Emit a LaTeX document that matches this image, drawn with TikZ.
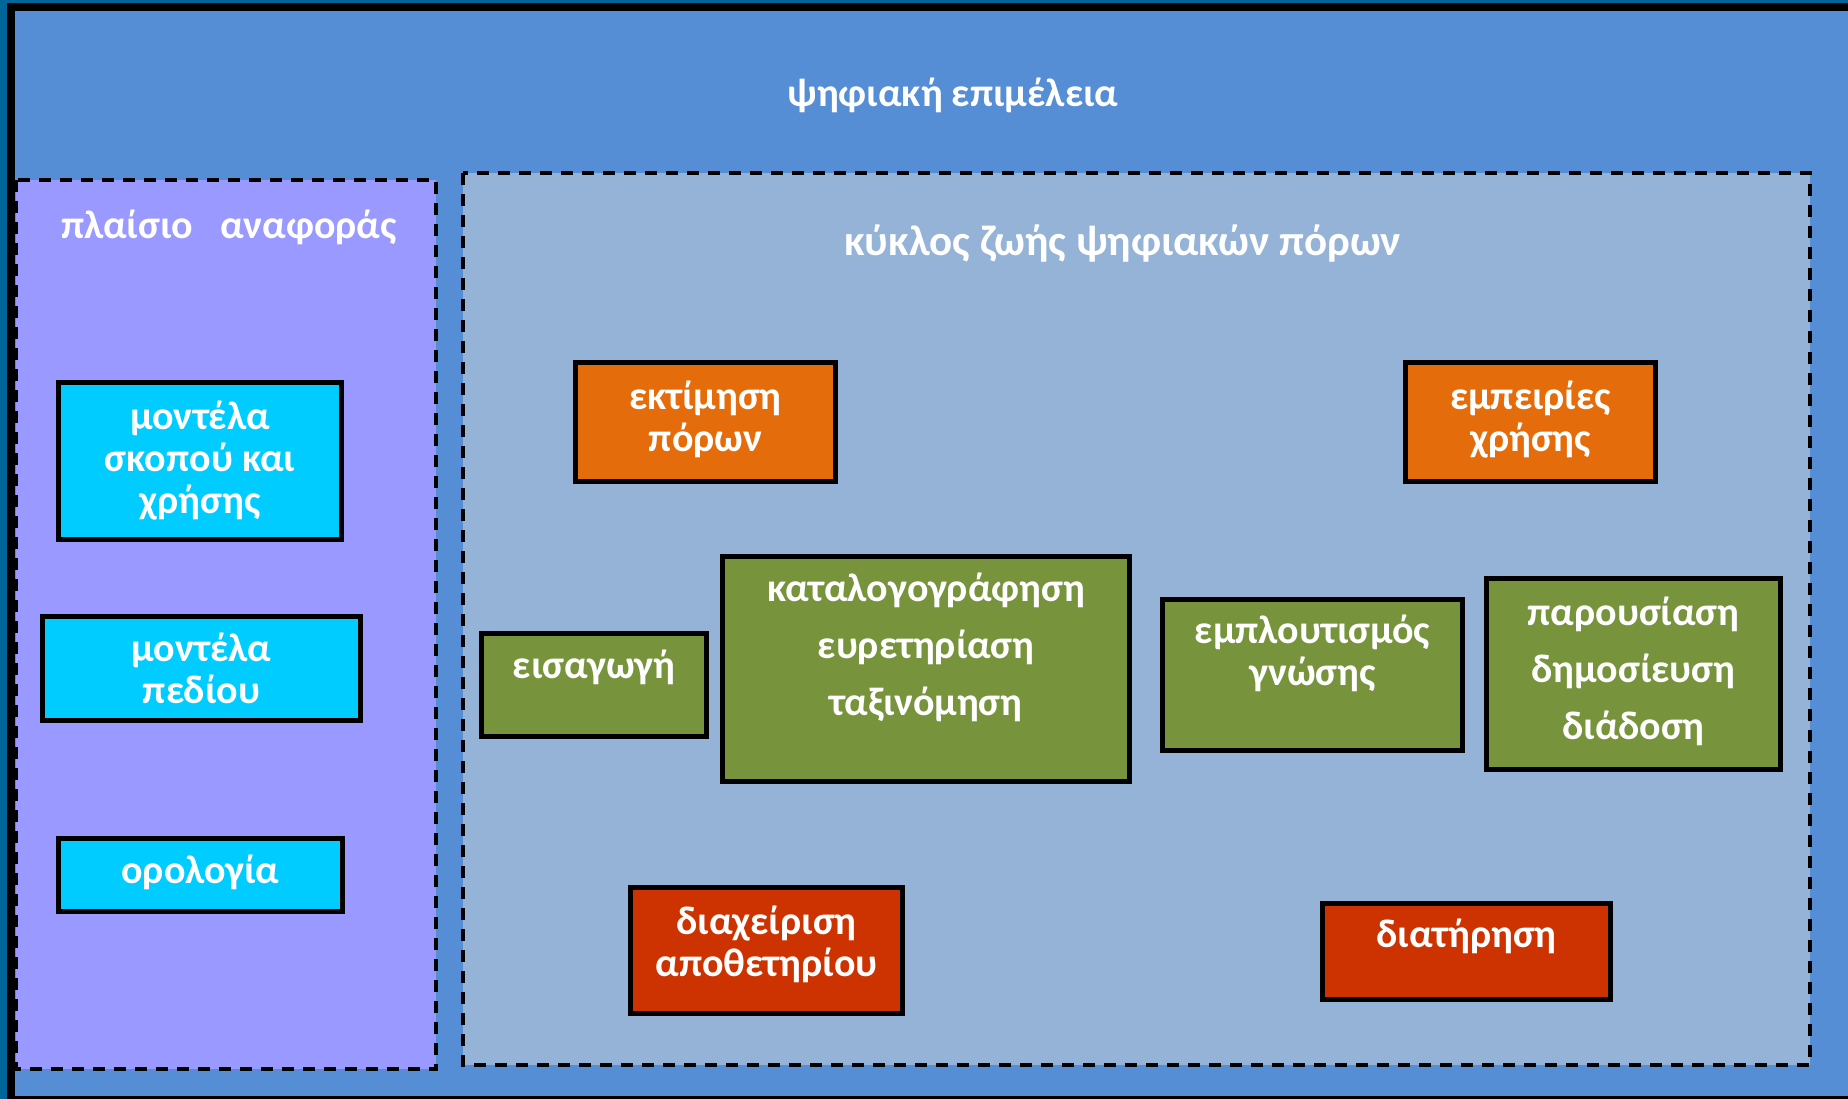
\documentclass[tikz,border=0pt]{standalone}
\usepackage{fontspec}
\setmainfont{Carlito}
\usetikzlibrary{positioning}

\definecolor{frameteal}{HTML}{006699}
\definecolor{curblue}{HTML}{558ED5}
\definecolor{reflilac}{HTML}{9999FF}
\definecolor{cyclegrey}{HTML}{95B3D7}
\definecolor{modcyan}{HTML}{00CCFF}
\definecolor{evalorange}{HTML}{E46C0A}
\definecolor{stepgreen}{HTML}{77933C}
\definecolor{keepred}{HTML}{CC3300}

\tikzset{
  box/.style={draw=black, line width=5.5pt, text=white, align=center,
    inner sep=0pt, font=\bfseries\fontsize{40}{42}\selectfont},
  modbox/.style={box, fill=modcyan},
  evalbox/.style={box, fill=evalorange},
  stepbox/.style={box, fill=stepgreen},
  keepbox/.style={box, fill=keepred},
  area/.style={draw=black, line width=3.5pt, dash pattern=on 12pt off 9pt},
  heading/.style={text=white, font=\bfseries\fontsize{40}{42}\selectfont}
}

\begin{document}
\begin{tikzpicture}[x=1pt,y=-1pt]
\useasboundingbox (0,0) rectangle (1848,1099);
% frame
\fill[frameteal] (0,0) rectangle (1848,1099);
\fill[black] (7,3) rectangle (1848,1099);
\fill[curblue] (15,11) rectangle (1848,1096);
% the two areas
\draw[area, fill=reflilac] (16,180) rectangle (436,1069);
\draw[area, fill=cyclegrey] (463,173) rectangle (1810,1065);
\node[heading] (curation) at (953,95) {ψηφιακή επιμέλεια};
\node[heading] (reference) at (229,227) {πλαίσιο~~~αναφοράς};
\node[heading, font=\bfseries\fontsize{43}{45}\selectfont] (lifecycle) at (1123,244)
  {κύκλος ζωής ψηφιακών πόρων};

% reference frame
\node[modbox, minimum width=283, minimum height=157] (purpose) at (200,461)
  {μοντέλα\\σκοπού και\\χρήσης};
\node[modbox, minimum width=318, minimum height=104] (domain) at (201.5,668.5)
  {μοντέλα\\πεδίου};
\node[modbox, minimum width=284, minimum height=73, text depth=12] (terms) at (200.5,875)
  {ορολογία};

% life cycle
\node[evalbox, minimum width=260, minimum height=119, text depth=12] (assess) at (705.5,422)
  {εκτίμηση\\πόρων};
\node[evalbox, minimum width=250, minimum height=119, text depth=12] (usage) at (1530.5,422)
  {εμπειρίες\\χρήσης};
\node[stepbox, minimum width=225, minimum height=103, text depth=42] (ingest) at (594,685)
  {εισαγωγή};
\node[stepbox, minimum width=407, minimum height=225, text depth=50,
  font=\bfseries\fontsize{40}{57}\selectfont] (catalog) at (926,669)
  {καταλογογράφηση\\ευρετηρίαση\\ταξινόμηση};
\node[stepbox, minimum width=300, minimum height=151, text depth=50] (enrich) at (1312.5,675)
  {εμπλουτισμός\\γνώσης};
\node[stepbox, minimum width=294, minimum height=191, text depth=12,
  font=\bfseries\fontsize{40}{57}\selectfont] (publish) at (1633.5,674)
  {παρουσίαση\\δημοσίευση\\διάδοση};
\node[keepbox, minimum width=272, minimum height=126, text depth=19] (repo) at (766.5,950.5)
  {διαχείριση\\αποθετηρίου};
\node[keepbox, minimum width=288, minimum height=96, text depth=36] (preserve) at (1466.5,951.5)
  {διατήρηση};
\end{tikzpicture}
\end{document}
